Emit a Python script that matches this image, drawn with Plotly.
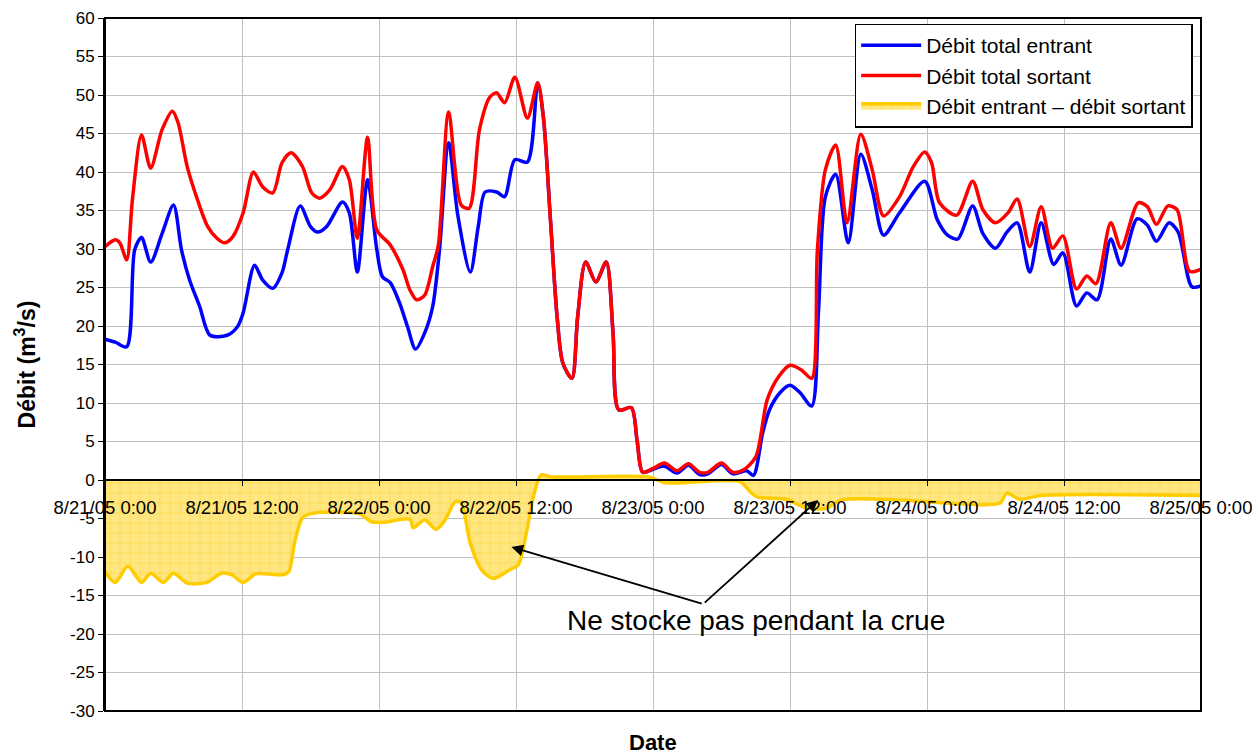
import plotly.graph_objects as go

# time in hours from 8/21/05 0:00
tick_hours = [0, 12, 24, 36, 48, 60, 72, 84, 96]
tick_labels = ["8/21/05 0:00", "8/21/05 12:00", "8/22/05 0:00", "8/22/05 12:00",
               "8/23/05 0:00", "8/23/05 12:00", "8/24/05 0:00", "8/24/05 12:00",
               "8/25/05 0:00"]
y_ticks = [-30, -25, -20, -15, -10, -5, 0, 5, 10, 15, 20, 25, 30, 35, 40, 45, 50, 55, 60]
y_labels = ["-30", "-25", "-20", "-15", "-10", "-5", "0", "5", "10", "15", "20", "25",
            "30", "35", "40", "45", "50", "55", "60"]

entrant_h = [0.0, 0.9, 1.9, 2.6, 3.2, 4.0, 5.0, 6.0, 6.7, 7.4, 8.3, 9.2, 10.7, 11.6, 12.1,
             13.1, 13.8, 14.7, 15.5, 16.0, 17.1, 18.0, 18.6, 19.4, 20.8, 21.4, 22.1, 23.0,
             23.8, 24.3, 25.0, 25.8, 26.5, 27.2, 28.0, 28.7, 29.3, 30.1, 30.9, 32.0, 32.7,
             33.3, 34.3, 35.0, 35.9, 37.0, 37.9, 38.4, 39.0, 39.6, 40.1, 40.9, 41.4, 42.1,
             43.0, 43.9, 44.5, 45.0, 46.1, 46.6, 47.1, 48.0, 49.0, 50.1, 51.1, 52.1, 52.8,
             54.0, 55.0, 56.2, 56.8, 57.6, 58.2, 59.1, 60.0, 60.9, 61.9, 62.5, 63.1, 64.0,
             65.1, 66.2, 67.2, 68.2, 69.6, 71.8, 72.9, 73.8, 74.7, 76.0, 76.9, 78.0, 79.0,
             79.9, 81.0, 82.0, 83.1, 83.9, 85.1, 86.0, 86.9, 88.1, 89.0, 90.4, 91.3, 92.1,
             93.2, 94.0, 95.2, 96.0]
entrant_q = [18.3, 17.9, 17.3, 29.9, 31.5, 28.3, 32.0, 35.7, 29.9, 26.0, 22.5, 18.8, 18.8, 19.9, 21.7,
             27.9, 26.0, 24.9, 26.9, 29.9, 35.6, 32.9, 32.2, 32.9, 36.1, 34.7, 27.0, 39.0,
             30.0, 26.4, 25.6, 23.0, 19.9, 17.0, 19.1, 22.5, 29.9, 43.8, 34.4, 27.0, 33.0,
             37.4, 37.4, 36.8, 41.6, 41.3, 51.6, 47.1, 34.2, 21.2, 15.2, 13.2, 21.2, 28.3,
             25.7, 28.3, 19.1, 9.1, 9.4, 5.2, 1.0, 1.4, 1.8, 0.9, 1.9, 0.7, 0.8,
             2.0, 0.8, 1.2, 0.6, 6.1, 9.1, 11.3, 12.3, 11.3, 9.6, 22.0, 36.8, 39.7,
             30.8, 42.3, 37.7, 31.8, 34.7, 38.8, 33.8, 31.8, 31.3, 35.6, 32.0, 30.1, 32.2,
             33.4, 27.0, 33.4, 28.0, 29.5, 22.6, 24.3, 23.4, 31.3, 27.9, 33.9, 33.1, 31.0,
             33.4, 32.2, 25.1, 25.2]

sortant_h = [0.0, 0.9, 1.3, 1.9, 2.4, 3.2, 4.0, 5.0, 5.9, 6.4, 7.2, 8.1, 9.0, 9.8, 10.5, 11.2,
             12.1, 13.0, 13.8, 14.7, 15.5, 16.3, 17.3, 18.1, 18.8, 19.7, 20.8, 21.4, 22.1,
             23.0, 23.8, 25.0, 26.1, 26.7, 27.3, 28.0, 28.7, 29.2, 30.1, 31.2, 31.9, 32.8,
             33.7, 34.3, 35.0, 35.9, 37.0, 37.9, 38.4, 39.0, 39.6, 40.1, 40.9, 41.4, 42.1,
             43.0, 43.9, 44.5, 45.0, 46.1, 46.6, 47.1, 48.0, 49.0, 50.1, 51.1, 52.1, 52.8,
             54.0, 55.0, 55.9, 57.0, 58.0, 59.0, 60.0, 61.0, 61.9, 62.4, 63.1, 64.0, 65.0,
             66.2, 67.2, 68.2, 69.6, 70.8, 71.8, 72.4, 73.1, 74.6, 76.0, 76.9, 78.0, 79.1,
             79.9, 81.0, 82.0, 83.0, 83.9, 85.1, 86.0, 86.8, 88.1, 89.0, 90.5, 91.3, 92.1,
             93.1, 93.9, 95.0, 96.0]
sortant_q = [30.3, 31.2, 30.8, 28.6, 36.4, 44.8, 40.5, 45.5, 47.9, 46.4, 40.7, 36.4, 32.9, 31.4, 30.8, 31.6,
             34.7, 40.0, 38.1, 37.3, 41.2, 42.5, 40.7, 37.3, 36.6, 37.7, 40.7, 39.0, 31.4,
             44.5, 32.5, 30.5, 27.3, 24.7, 23.4, 24.0, 27.7, 30.5, 47.8, 35.7, 35.3, 45.5,
             49.7, 50.3, 49.0, 52.3, 47.0, 51.6, 47.1, 34.2, 21.2, 15.2, 13.2, 21.2, 28.3,
             25.7, 28.3, 19.1, 9.1, 9.4, 5.2, 1.0, 1.5, 2.2, 1.2, 2.1, 1.0, 1.0,
             2.2, 1.0, 1.3, 3.0, 10.4, 13.4, 14.9, 14.3, 13.2, 29.9, 40.3, 43.5, 33.4,
             44.9, 40.3, 34.3, 36.8, 40.7, 42.6, 41.2, 36.0, 34.4, 38.8, 35.1, 33.4, 34.7,
             36.5, 30.3, 35.5, 30.1, 31.7, 24.8, 26.5, 25.5, 33.4, 30.1, 36.0, 35.5, 33.2,
             35.6, 35.1, 27.1, 27.4]

diff_h = [0.0, 0.9, 2.0, 3.2, 4.0, 5.1, 6.0, 7.2, 8.9, 10.2, 11.1, 12.1, 13.2, 15.6, 16.1,
          16.6, 17.3, 18.3, 22.3, 23.3, 24.4, 26.7, 27.0, 28.0, 29.0, 29.7, 30.7, 31.2,
          32.0, 33.0, 34.0, 35.4, 36.2, 36.9, 37.6, 38.2, 39.1, 47.6, 49.1, 55.6, 56.5,
          57.1, 59.7, 61.2, 63.1, 64.5, 68.0, 77.1, 78.4, 79.0, 80.1, 82.0, 96.0]
diff_q = [-11.9, -13.3, -11.2, -13.3, -12.1, -13.3, -12.1, -13.4, -13.3, -12.1, -12.3, -13.3, -12.2, -12.3, -11.9,
          -8.2, -4.9, -4.3, -4.4, -5.4, -5.5, -5.1, -6.2, -5.2, -6.4, -5.4, -2.8, -3.0,
          -8.2, -11.7, -12.8, -11.7, -11.0, -6.9, -1.7, 0.65, 0.4, 0.4, -0.35, -0.2, -1.5,
          -2.2, -2.5, -3.5, -3.7, -2.6, -2.5, -3.2, -3.0, -1.7, -2.5, -2.0, -2.0]

FONT = "Liberation Sans, Arial, sans-serif"

fig = go.Figure()

fig.add_trace(go.Scatter(
    x=diff_h, y=diff_q, name="Débit entrant – débit sortant", mode="lines",
    line=dict(color="#FFCC00", width=3.5, shape="spline", smoothing=0.8),
    fill="tozeroy",
    fillpattern=dict(shape="+", fgcolor="#F7C600", bgcolor="#FFE680", size=10, solidity=0.12),
    legendrank=3,
))
fig.add_trace(go.Scatter(
    x=entrant_h, y=entrant_q, name="Débit total entrant", mode="lines",
    line=dict(color="#0000FF", width=3.5, shape="spline", smoothing=0.8),
    legendrank=1,
))
fig.add_trace(go.Scatter(
    x=sortant_h, y=sortant_q, name="Débit total sortant", mode="lines",
    line=dict(color="#FF0000", width=3.5, shape="spline", smoothing=0.8),
    legendrank=2,
))

fig.update_layout(
    width=1257, height=755,
    margin=dict(l=105, r=56, t=18, b=44),
    paper_bgcolor="white", plot_bgcolor="white",
    font=dict(family=FONT, color="black", size=17),
    showlegend=True,
    legend=dict(x=0.684, y=0.992, xanchor="left", yanchor="top",
                bgcolor="white", bordercolor="black", borderwidth=1.5,
                font=dict(size=21, family=FONT), itemwidth=60,
                tracegroupgap=0),
    xaxis=dict(range=[0, 96], tickmode="array", tickvals=tick_hours, ticktext=tick_labels,
               anchor="free", position=1/3, showline=True, linecolor="black", linewidth=1.5,
               ticks="outside", ticklen=5, tickcolor="black", automargin=False,
               showgrid=True, gridcolor="#C0C0C0", gridwidth=1, zeroline=False,
               tickfont=dict(size=18.5), ticklabelstandoff=6),
    yaxis=dict(range=[-30, 60], tickmode="array", tickvals=y_ticks, ticktext=y_labels,
               showline=True, linecolor="black", linewidth=2, automargin=False,
               ticks="outside", ticklen=5, tickcolor="black",
               showgrid=True, gridcolor="#C0C0C0", gridwidth=1, zeroline=False,
               tickfont=dict(size=17),
               title=dict(text="<b>Débit (m<sup>3</sup>/s)</b>", font=dict(size=23), standoff=28)),
)

fig.add_shape(type="rect", xref="paper", yref="paper", x0=0, y0=0, x1=1, y1=1,
              line=dict(color="black", width=2), layer="above")

fig.add_annotation(x=0.5, y=-0.046, xref="paper", yref="paper", text="<b>Date</b>",
                   showarrow=False, font=dict(size=22), yanchor="middle")

fig.add_annotation(x=57.0, y=-18.2, text="Ne stocke pas pendant la crue", showarrow=False,
                   font=dict(size=28))
fig.add_annotation(x=35.6, y=-8.7, ax=52.4, ay=-16.1, axref="x", ayref="y", text="",
                   showarrow=True, arrowhead=2, arrowsize=1.3, arrowwidth=1.8, arrowcolor="black")
fig.add_annotation(x=62.45, y=-2.6, ax=52.4, ay=-16.1, axref="x", ayref="y", text="",
                   showarrow=True, arrowhead=2, arrowsize=1.3, arrowwidth=1.8, arrowcolor="black")

fig.write_html("out.html", config={"displayModeBar": False},
               post_script="document.body.style.margin='0';")
